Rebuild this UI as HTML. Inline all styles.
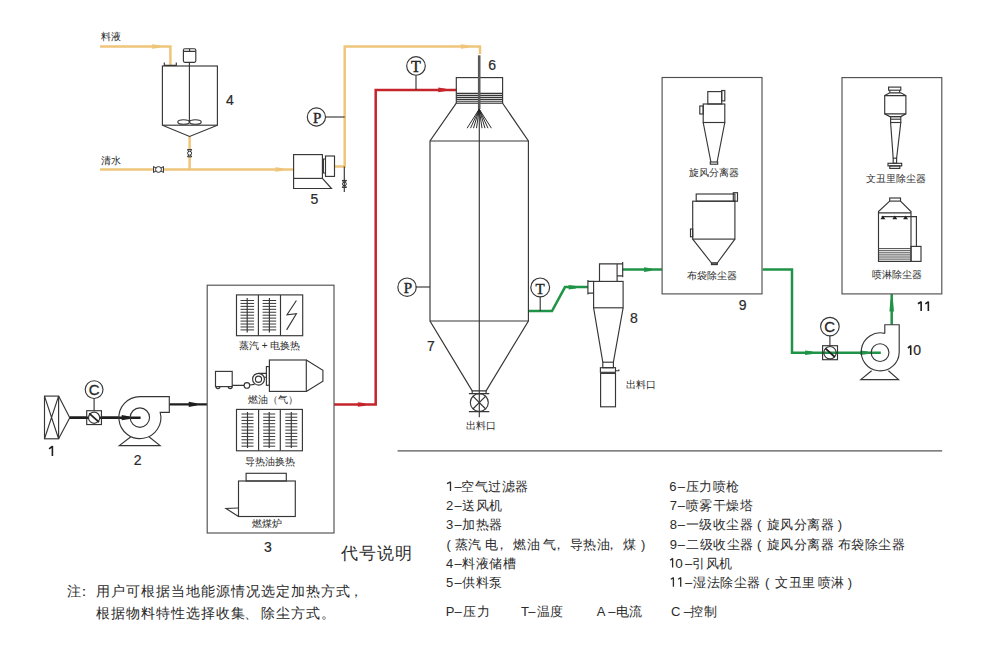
<!DOCTYPE html>
<html><head><meta charset="utf-8">
<style>
html,body{margin:0;padding:0;background:#fff;}
body{width:990px;height:647px;overflow:hidden;position:relative;}
svg{position:absolute;left:0;top:0;}
text{font-family:"Liberation Sans",sans-serif;fill:#2a2a2a;}
.s{stroke:#363636;stroke-width:1.15;fill:none;}
.f{fill:#fff;}
.y{stroke:#eec57a;stroke-width:2.5;fill:none;}
.r{stroke:#c4242a;stroke-width:2.5;fill:none;}
.g{stroke:#1f9447;stroke-width:2.5;fill:none;}
.k{stroke:#1e1e1e;stroke-width:2.4;fill:none;}
.serif text,text.serif{font-family:"Liberation Serif",serif;}
</style></head>
<body>
<svg width="990" height="647" viewBox="0 0 990 647">
<!-- PIPES -->
<g id="pipes">
  <path class="y" d="M100,46.5 H170.4 V66"/>
  <path class="y" d="M100,169.5 H293.6"/>
  <path class="y" d="M189.6,136.5 V169.5"/>
  <path class="y" d="M334,166.5 H344.7 V46.5 H480 V54"/>
  <path class="r" d="M334,404.5 H375.7 V89.9 H456.4"/>
  <path class="k" d="M69.7,417.7 H140.6"/>
  <path class="k" d="M169.3,404.4 H207"/>
  <path class="g" d="M528.4,311 H552 L565,287.1 H587.9"/>
  <path class="g" d="M622.7,269.4 H662.1"/>
  <path class="g" d="M762.6,269.5 H792 V352.8 H880.8"/>
  <path class="g" d="M891.7,324.7 V294"/>
</g>
<!-- EQUIPMENT -->
<!-- arrows -->
<path fill="#eec57a" d="M152.1,44.30 L159.60,45.30 L159.60,47.70 L152.1,48.70 Z M275.4,167.30 L282.90,168.30 L282.90,170.70 L275.4,171.70 Z M460.9,44.30 L468.40,45.30 L468.40,47.70 L460.9,48.70 Z"/>
<path fill="#c4242a" d="M438.3,87.60 L445.80,88.70 L445.80,91.10 L438.3,92.20 Z M357.8,402.20 L365.30,403.30 L365.30,405.70 L357.8,406.80 Z"/>
<path fill="#1e1e1e" d="M121.7,415.10 L129.70,416.50 L129.70,418.90 L121.7,420.30 Z M188.7,401.80 L196.70,403.20 L196.70,405.60 L188.7,407.00 Z"/>
<path fill="#1f9447" d="M568.6,285.00 L576.10,286.10 L576.10,288.50 L568.6,289.60 Z M644.1,267.30 L651.60,268.40 L651.60,270.80 L644.1,271.90 Z M805.1,350.50 L812.60,351.60 L812.60,354.00 L805.1,355.10 Z M860.4,350.50 L867.90,351.60 L867.90,354.00 L860.4,355.10 Z M889.40,311.6 L890.50,299.60 L892.90,299.60 L894.00,311.6 Z"/>
<!-- Tank 4 -->
<g class="s">
  <rect x="162.4" y="66" width="55" height="59.2"/>
  <path d="M162.4,125.2 L189.6,136.5 L217.4,125.2"/>
  <rect x="183.4" y="48.7" width="12.4" height="13.6" rx="1.5"/>
  <path d="M183.4,51.3 H195.8 M189.6,48.7 V51.3"/>
  <path d="M189.4,62.3 V122"/>
  <path d="M164.3,62.6 V65.4 H176.3 V62.6"/>
  <ellipse cx="183.6" cy="122" rx="5.8" ry="2.3"/>
  <ellipse cx="195.4" cy="122" rx="5.8" ry="2.3"/>
</g>
<!-- valves -->
<g fill="#fff"><rect x="153.6" y="166.8" width="9.8" height="5.4"/><rect x="187.8" y="149.8" width="3.6" height="6.8"/><rect x="342.6" y="180.6" width="3.6" height="6.6"/></g>
<g stroke="#2a2a2a" stroke-width="1" fill="none">
  <path d="M153.6,166.4 V172.6 M163.4,166.4 V172.6 M153.6,166.6 L158.5,169.5 L153.6,172.4 M163.4,166.6 L158.5,169.5 L163.4,172.4"/>
  <circle cx="158.5" cy="169.5" r="2.9" fill="#fff"/>
  <path d="M187.4,149.6 H191.8 M187.4,156.8 H191.8 M187.6,149.6 L189.6,153.2 L191.6,149.6 M187.6,156.8 L189.6,153.2 L191.6,156.8"/>
  <circle cx="189.6" cy="153.2" r="2" fill="#fff"/>
  <path d="M342.2,180.4 H346.6 M342.2,187.4 H346.6 M342.4,180.4 L344.4,183.9 L346.4,180.4 M342.4,187.4 L344.4,183.9 L346.4,187.4"/>
  <circle cx="344.4" cy="183.9" r="1.9" fill="#fff"/>
</g>
<!-- Pump 5 -->
<g class="s">
  <rect x="293.6" y="154.6" width="28.8" height="23.8"/>
  <path d="M293.6,178.4 V188.5 H331.5 L322.4,178.4"/>
  <path d="M323.4,159 V173 M322.4,159 H325.5 M322.4,173 H325.5"/>
  <rect x="325.5" y="156" width="9" height="20.4"/>
  <path d="M344.3,166.5 V192"/>
</g>
<!-- gauges -->
<g class="s">
  <circle cx="316.4" cy="117" r="9.1"/><path d="M325.4,117 H344.7"/>
  <circle cx="416" cy="65.9" r="9.3"/><path d="M416,75.2 V89.9"/>
  <circle cx="407.05" cy="287.2" r="9.2"/><path d="M415.6,287 H430"/>
  <circle cx="540.2" cy="287.4" r="9.4"/><path d="M540.2,296.8 V311"/>
  <circle cx="94.1" cy="389.6" r="8.9"/><path d="M94.1,398.5 V410.7"/>
  <circle cx="829.9" cy="326.6" r="9.3"/><path d="M829.9,335.9 V345.7"/>
</g>
<g class="serif" font-size="15" text-anchor="middle" stroke="#222" stroke-width="0.4">
  <text x="317.2" y="122.8">P</text>
  <text x="415.9" y="71.8" font-size="16">T</text>
  <text x="407.8" y="292.9">P</text>
  <text x="540.1" y="293.8">T</text>
</g>
<g font-size="15" text-anchor="middle" stroke="#222" stroke-width="0.3">
  <text x="94.2" y="395">C</text>
  <text x="829.6" y="332">C</text>
</g>

<!-- Dryer 7 -->
<g class="s">
  <rect x="456.3" y="77.6" width="46.3" height="25.6"/>
  <path d="M456.3,93.4 H502.6 M456.3,95.3 H502.6 M456.3,97.3 H502.6 M456.3,99.3 H502.6 M456.3,101.2 H502.6"/>
  <path d="M456.3,103.2 L430,141 V321 L472.2,390.8 H486.1 L528.4,321 V141 L502.6,103.2"/>
  <path d="M430,141 H528.4 M430,321 H528.4"/>
  <path d="M479.3,109 V417.2"/>
  <path d="M472.2,390.8 V393.6 M486.1,390.8 V393.6 M468.9,393.6 H489.3 M468.9,411.6 H489.3"/>
  <circle cx="479.3" cy="402.6" r="9"/>
  <path d="M472.9,396.2 L485.7,409 M485.7,396.2 L472.9,409"/>
</g>
<path d="M479.2,55.3 V109.1" stroke="#5a5a5a" stroke-width="2.6"/>
<g stroke="#222" stroke-width="0.95" fill="none">
  <path d="M479.2,109.1 L467.1,128.2 M479.2,109.1 L470.5,128.2 M479.2,109.1 L473.5,128.2 M479.2,109.1 L476.5,128.2 M479.2,109.1 L482,128.2 M479.2,109.1 L485,128.2 M479.2,109.1 L488,128.2 M479.2,109.1 L491.4,128.2"/>
</g>

<!-- Filter 1 -->
<g class="s">
  <rect x="44.5" y="396.1" width="14.1" height="42.7"/>
  <path d="M44.5,396.1 L58.6,438.8 M58.6,396.1 L44.5,438.8"/>
  <path d="M58.6,396.1 L69.75,417.7 L58.6,438.8"/>
  <rect x="86.7" y="410.7" width="14.75" height="13.85"/>
  <circle cx="94.1" cy="417.7" r="5.6" fill="#fff"/>
</g>
<path d="M89.2,413.4 L99,422.1" stroke="#222" stroke-width="1.8"/>
<path d="M69.7,417.7 H86.7 M101.45,417.7 H119" stroke="#1e1e1e" stroke-width="2.4"/>

<!-- Fan 2 -->
<g class="s">
  <path d="M139.85,396.6 H169.3 V412.3 H160.2 A21,21 0 1 1 139.85,396.6"/>
  <circle cx="139.85" cy="417.6" r="9.7"/>
  <path d="M130.9,436.8 L119.3,445.6 H160.1 L148.9,436.8"/>
</g>

<!-- Cyclone 8 -->
<g class="s">
  <rect x="593.6" y="281.4" width="29.5" height="26.4"/>
  <path d="M599.5,281.4 V263.8 H622.7 M617.1,281.4 V263.8 M617.1,275.9 H622.7 M622.7,262 V277.3"/>
  <path d="M587.9,280 V294.6 M587.9,281.4 H593.6 M587.9,293.1 H593.6"/>
  <path d="M593.6,307.8 L602.8,362.2 M623.1,307.8 L613.4,362.2"/>
  <rect x="602.8" y="362.2" width="10.6" height="5.5"/>
  <rect x="600.4" y="367.7" width="15.1" height="4.6"/>
  <rect x="600.6" y="373.4" width="14.9" height="33.4"/>
  <path d="M615.5,370.7 H619.3 M618.6,369.4 L619.3,370.7"/>
</g>

<!-- Fan 10 -->
<g class="s">
  <path d="M884.8,333.4 V324.7 H899.2 V352.4 A19,19 0 1 1 884.8,333.4"/>
  <circle cx="880.05" cy="352.6" r="8.9"/>
  <path d="M871.6,370.7 L860.8,379.6 H898.6 L888.4,370.7"/>
  <rect x="822.6" y="345.7" width="14.9" height="14"/>
  <circle cx="830" cy="352.7" r="6.2"/>
</g>
<path d="M825.4,348.4 L834.8,357" stroke="#222" stroke-width="1.8"/>

<!-- Box 3 contents -->
<g class="s">
  <rect x="236.5" y="294.9" width="66.2" height="40.8"/>
  <path d="M258.4,294.9 V335.7 M280.5,294.9 V335.7"/>
  <path d="M247.2,298.1 V332.4 M269.4,298.1 V332.4"/>
  <path d="M296.4,300.5 L287,314.7 L296.4,313.7 L286.6,329.9"/>
  <!-- burner -->
  <rect x="215.5" y="371.4" width="16.7" height="15.2"/>
  <path d="M216,386.6 a2,2 0 0 0 4,0 M228.2,386.6 a2,2 0 0 0 4,0"/>
  <path d="M232.2,385.4 H244.1 M249.7,385 L254.5,384.4"/>
  <circle cx="246.9" cy="385.4" r="2.8"/>
  <circle cx="258.5" cy="379.2" r="5.9"/>
  <circle cx="258.5" cy="379.2" r="3.1"/>
  <path d="M258.5,373.3 H266.4 M264.3,377.2 H266.4"/>
  <rect x="266.4" y="366.6" width="3" height="18.7"/>
  <rect x="269.4" y="360" width="36.9" height="31.4"/>
  <path d="M306.3,360 L322.9,370.2 V381.3 L306.3,391.4"/>
  <!-- HX2 -->
  <rect x="236.5" y="409.4" width="65.9" height="41.4"/>
  <path d="M258.6,409.4 V450.8 M280.3,409.4 V450.8"/>
  <path d="M247.5,412 V448 M269.2,412 V448 M291.3,412 V448"/>
  <!-- coal furnace -->
  <rect x="246.1" y="473.3" width="40.2" height="7.7"/>
  <rect x="238.5" y="481" width="56.8" height="35.5"/>
  <path d="M238.5,508 L226,508.5 L238.5,516.5"/>
</g>
<g stroke="#3a3a3a" stroke-width="1">
  <path d="M240.5,300.50 H254.1 M240.5,303.44 H254.1 M240.5,306.38 H254.1 M240.5,309.32 H254.1 M240.5,312.26 H254.1 M240.5,315.20 H254.1 M240.5,318.14 H254.1 M240.5,321.08 H254.1 M240.5,324.02 H254.1 M240.5,326.96 H254.1 M240.5,329.90 H254.1 M262.6,300.50 H276.2 M262.6,303.44 H276.2 M262.6,306.38 H276.2 M262.6,309.32 H276.2 M262.6,312.26 H276.2 M262.6,315.20 H276.2 M262.6,318.14 H276.2 M262.6,321.08 H276.2 M262.6,324.02 H276.2 M262.6,326.96 H276.2 M262.6,329.90 H276.2 M241.5,414.00 H253.5 M241.5,417.22 H253.5 M241.5,420.44 H253.5 M241.5,423.66 H253.5 M241.5,426.88 H253.5 M241.5,430.10 H253.5 M241.5,433.32 H253.5 M241.5,436.54 H253.5 M241.5,439.76 H253.5 M241.5,442.98 H253.5 M241.5,446.20 H253.5 M263.2,414.00 H275.2 M263.2,417.22 H275.2 M263.2,420.44 H275.2 M263.2,423.66 H275.2 M263.2,426.88 H275.2 M263.2,430.10 H275.2 M263.2,433.32 H275.2 M263.2,436.54 H275.2 M263.2,439.76 H275.2 M263.2,442.98 H275.2 M263.2,446.20 H275.2 M285.3,414.00 H297.3 M285.3,417.22 H297.3 M285.3,420.44 H297.3 M285.3,423.66 H297.3 M285.3,426.88 H297.3 M285.3,430.10 H297.3 M285.3,433.32 H297.3 M285.3,436.54 H297.3 M285.3,439.76 H297.3 M285.3,442.98 H297.3 M285.3,446.20 H297.3"/>
</g>
<!-- Box 9 contents -->
<g class="s">
  <rect x="707.8" y="91.6" width="13.9" height="12.4"/>
  <rect x="721.7" y="90.5" width="3.1" height="10.4"/>
  <rect x="703.2" y="104" width="21.6" height="18.5"/>
  <rect x="699.8" y="106" width="3.4" height="8"/>
  <path d="M703.2,122.5 L710.9,162 M724.8,122.5 L717.1,162"/>
  <rect x="710.3" y="162" width="7.4" height="2.2"/>
  <rect x="696.2" y="194" width="38.7" height="7.2"/>
  <rect x="733.3" y="192.7" width="4.2" height="8.5"/>
  <rect x="692.7" y="201.2" width="42.2" height="37.9"/>
  <rect x="690.5" y="229" width="2.2" height="7.8"/>
  <path d="M692.7,239.1 L711.5,263 H717.3 L734.9,239.1"/>
  <rect x="711.5" y="263" width="5.8" height="1.6"/>
</g>
<!-- Box 11 contents -->
<g class="s">
  <rect x="888.6" y="87.1" width="12.2" height="3.1"/>
  <path d="M889.8,90.2 V92.8 M899.6,90.2 V92.8"/>
  <path d="M889.8,92.8 L884.7,95.6 V113.8 L889.8,116.6 H900.8 L905.9,113.8 V95.6 L900.8,92.8 Z"/>
  <path d="M884.7,95.6 H905.9 M884.7,113.8 H905.9"/>
  <rect x="890.6" y="116.6" width="10.2" height="5.9"/>
  <path d="M890.6,119.2 H900.8"/>
  <path d="M890.6,122.5 L893.2,158.2 M900.8,122.5 L896.6,158.2"/>
  <rect x="893.2" y="158.2" width="3.4" height="5.1"/>
  <rect x="888" y="163.3" width="13.7" height="2.6"/>
  <rect x="889.8" y="165.9" width="10" height="2.5"/>
  <!-- spray tower -->
  <rect x="889.7" y="198" width="10.8" height="3.1"/>
  <path d="M889.7,201.1 L878.5,211.6 V261.4 H911 V211.6 L900.5,201.1"/>
  <path d="M878.5,212.9 H911"/>
  <path d="M881.6,216.6 H916.4 V246.4"/>
  <rect x="911" y="246.4" width="10" height="15"/>
</g>
<g stroke="#4a4a4a" stroke-width="1">
  <path d="M878.5,248.6 H911 M878.5,250.7 H911 M878.5,252.8 H911 M878.5,254.9 H911 M878.5,257 H911 M878.5,259.1 H911"/>
</g>
<g fill="#222">
  <path d="M880.4,219.2 L882.9,215.6 L885.4,219.2 Z M892.3,219.2 L894.8,215.6 L897.3,219.2 Z M903.1,219.2 L905.6,215.6 L908.1,219.2 Z"/>
</g>

<!-- TEXT: labels -->
<g font-size="10">
  <text x="101.0" y="40.2">料液</text>
  <text x="101.0" y="164.2">清水</text>
  <text x="239" y="349.2">蒸汽 + 电换热</text>
  <text x="247.5" y="403.2">燃油（气）</text>
  <text x="244.8" y="464.7">导热油换热</text>
  <text x="252.0" y="527.2">燃煤炉</text>
  <text x="465.5" y="429.2">出料口</text>
  <text x="625.5" y="387.7">出料口</text>
  <text x="689.0" y="176.2">旋风分离器</text>
  <text x="687.0" y="279.2">布袋除尘器</text>
  <text x="866.0" y="182.2">文丑里除尘器</text>
  <text x="872.4" y="277.7">喷淋除尘器</text>
</g>
<g font-size="14" stroke="#2a2a2a" stroke-width="0.2">
  <text x="226.0" y="104.5">4</text>
  <text x="310.6" y="204">5</text>
  <text x="488.2" y="69.7">6</text>
  <text x="427.0" y="351.3">7</text>
  <text x="630.0" y="322.9">8</text>
  <text x="738.7" y="310">9</text>
  <text x="133.7" y="465">2</text>
  <text x="264.0" y="551.5">3</text>
  <text x="913.3" y="355.2">0</text>
</g>
<path d="M52.4,446 V455.9 M49.1,448.8 L52.6,446.1 M910.7,345.6 V354.9 M907.9,348 L910.9000000000001,345.70000000000005 M921.15,301.6 V310.9 M917.9,303.8 L921.35,301.70000000000005 M928.35,301.6 V310.9 M925.3,303.8 L928.5500000000001,301.70000000000005" stroke="#1e1e1e" stroke-width="1.6" fill="none"/>
<path d="M450.5,481.7 V491.0 M447,483.6 L450.7,481.8 M672.6,558.3 V567.6 M670.1,560.2 L672.8,558.4 M673.4,577.5 V586.8 M670.8,579.3 L673.6,577.6 M680.7,577.5 V586.8 M678.1,579.3 L680.9,577.6" stroke="#2a2a2a" stroke-width="1.3" fill="none"/>
<!-- legend -->
<g id="legend">
<text x="454.5" y="491.0" font-size="13" letter-spacing="0.5">–</text>
<text x="461.4" y="491.0" font-size="13" letter-spacing="0.5">空气过滤器</text>
<text x="446.1" y="510.2" font-size="13" letter-spacing="0.5">2</text>
<text x="454.5" y="510.2" font-size="13" letter-spacing="0.5">–</text>
<text x="462.4" y="510.2" font-size="13" letter-spacing="0.5">送风机</text>
<text x="446.1" y="529.3" font-size="13" letter-spacing="0.5">3</text>
<text x="454.5" y="529.3" font-size="13" letter-spacing="0.5">–</text>
<text x="462.4" y="529.3" font-size="13" letter-spacing="0.5">加热器</text>
<text x="446.4" y="548.5" font-size="13" letter-spacing="0.5">(</text>
<text x="454.8" y="548.5" font-size="13" letter-spacing="0.5">蒸汽</text>
<text x="484.6" y="548.5" font-size="13" letter-spacing="0.5">电</text>
<text x="494.6" y="548.5" font-size="13" letter-spacing="0.5">，</text>
<text x="513.2" y="548.5" font-size="13" letter-spacing="0.5">燃油</text>
<text x="542.9" y="548.5" font-size="13" letter-spacing="0.5">气</text>
<text x="552.4" y="548.5" font-size="13" letter-spacing="0.5">，</text>
<text x="569.8" y="548.5" font-size="13" letter-spacing="0.5">导热油</text>
<text x="604.6" y="548.5" font-size="13" letter-spacing="0.5">，</text>
<text x="623.3" y="548.5" font-size="13" letter-spacing="0.5">煤</text>
<text x="641.1" y="548.5" font-size="13" letter-spacing="0.5">)</text>
<text x="446.1" y="567.6" font-size="13" letter-spacing="0.5">4</text>
<text x="454.5" y="567.6" font-size="13" letter-spacing="0.5">–</text>
<text x="462.4" y="567.6" font-size="13" letter-spacing="0.5">料液储槽</text>
<text x="446.1" y="586.8" font-size="13" letter-spacing="0.5">5</text>
<text x="454.5" y="586.8" font-size="13" letter-spacing="0.5">–</text>
<text x="462.4" y="586.8" font-size="13" letter-spacing="0.5">供料泵</text>
<text x="445.7" y="616.2" font-size="13" letter-spacing="0.5">P</text>
<text x="454.5" y="616.2" font-size="13" letter-spacing="0.5">–</text>
<text x="463.0" y="616.2" font-size="13" letter-spacing="0.5">压力</text>
<text x="521.1" y="616.2" font-size="13" letter-spacing="0.5">T</text>
<text x="528.3" y="616.2" font-size="13" letter-spacing="0.5">–</text>
<text x="536.8" y="616.2" font-size="13" letter-spacing="0.5">温度</text>
<text x="596.8" y="616.2" font-size="13" letter-spacing="0.5">A</text>
<text x="608.3" y="616.2" font-size="13" letter-spacing="0.5">–</text>
<text x="615.8" y="616.2" font-size="13" letter-spacing="0.5">电流</text>
<text x="669.2" y="491.0" font-size="13" letter-spacing="0.5">6</text>
<text x="677.7" y="491.0" font-size="13" letter-spacing="0.5">–</text>
<text x="685.6" y="491.0" font-size="13" letter-spacing="0.5">压力喷枪</text>
<text x="669.8" y="510.2" font-size="13" letter-spacing="0.5">7</text>
<text x="677.7" y="510.2" font-size="13" letter-spacing="0.5">–</text>
<text x="685.6" y="510.2" font-size="13" letter-spacing="0.5">喷雾干燥塔</text>
<text x="669.8" y="529.3" font-size="13" letter-spacing="0.5">8</text>
<text x="677.7" y="529.3" font-size="13" letter-spacing="0.5">–</text>
<text x="685.8" y="529.3" font-size="13" letter-spacing="0.5">一级收尘器</text>
<text x="756.9" y="529.3" font-size="13" letter-spacing="0.5">(</text>
<text x="766.5" y="529.3" font-size="13" letter-spacing="0.5">旋风分离器</text>
<text x="837.8" y="529.3" font-size="13" letter-spacing="0.5">)</text>
<text x="669.8" y="548.5" font-size="13" letter-spacing="0.5">9</text>
<text x="677.7" y="548.5" font-size="13" letter-spacing="0.5">–</text>
<text x="686.0" y="548.5" font-size="13" letter-spacing="0.5">二级收尘器</text>
<text x="756.9" y="548.5" font-size="13" letter-spacing="0.5">(</text>
<text x="766.5" y="548.5" font-size="13" letter-spacing="0.5">旋风分离器</text>
<text x="837.8" y="548.5" font-size="13" letter-spacing="0.5">布袋除尘器</text>
<text x="675.2" y="567.7" font-size="13.5">0</text>
<text x="684.9" y="567.6" font-size="13" letter-spacing="0.5">–</text>
<text x="692.3" y="567.6" font-size="13" letter-spacing="0.5">引风机</text>
<text x="684.9" y="586.8" font-size="13" letter-spacing="0.5">–</text>
<text x="693.3" y="586.8" font-size="13" letter-spacing="0.5">湿法除尘器</text>
<text x="765.0" y="586.8" font-size="13" letter-spacing="0.5">(</text>
<text x="775.1" y="586.8" font-size="13" letter-spacing="0.5">文丑里</text>
<text x="817.5" y="586.8" font-size="13" letter-spacing="0.5">喷淋</text>
<text x="847.8" y="586.8" font-size="13" letter-spacing="0.5">)</text>
<text x="671.0" y="616.2" font-size="13" letter-spacing="0.5">C</text>
<text x="683.8" y="616.2" font-size="13" letter-spacing="0.5">–</text>
<text x="690.3" y="616.2" font-size="13" letter-spacing="0.5">控制</text>
<text x="67.3" y="595.8" font-size="14" letter-spacing="1">注</text>
<text x="77.4" y="595.8" font-size="14" letter-spacing="1">：</text>
<text x="96.2" y="595.8" font-size="14" letter-spacing="1">用户可根据当地能源情况选定加热方式</text>
<text x="348.6" y="595.8" font-size="14" letter-spacing="1">，</text>
<text x="96.4" y="617.6" font-size="14" letter-spacing="1">根据物料特性选择收集</text>
<text x="244.4" y="617.6" font-size="14" letter-spacing="1">、</text>
<text x="260.9" y="617.6" font-size="14" letter-spacing="1">除尘方式</text>
<text x="320.5" y="617.6" font-size="14" letter-spacing="1">。</text>
<text x="341.1" y="558.7" font-size="17" letter-spacing="1">代号说明</text>
</g>
<!-- BOXES -->
<rect class="s" style="stroke:#505050" x="207.2" y="285.2" width="126.8" height="247.8"/>
<rect class="s" style="stroke:#505050" x="662.1" y="77.5" width="99.9" height="216.4"/>
<rect class="s" style="stroke:#505050" x="842" y="77.6" width="99.8" height="216.3"/>
<path d="M397.6,450.8 H942.2" stroke="#555" stroke-width="1.3"/>
</svg>
</body></html>
